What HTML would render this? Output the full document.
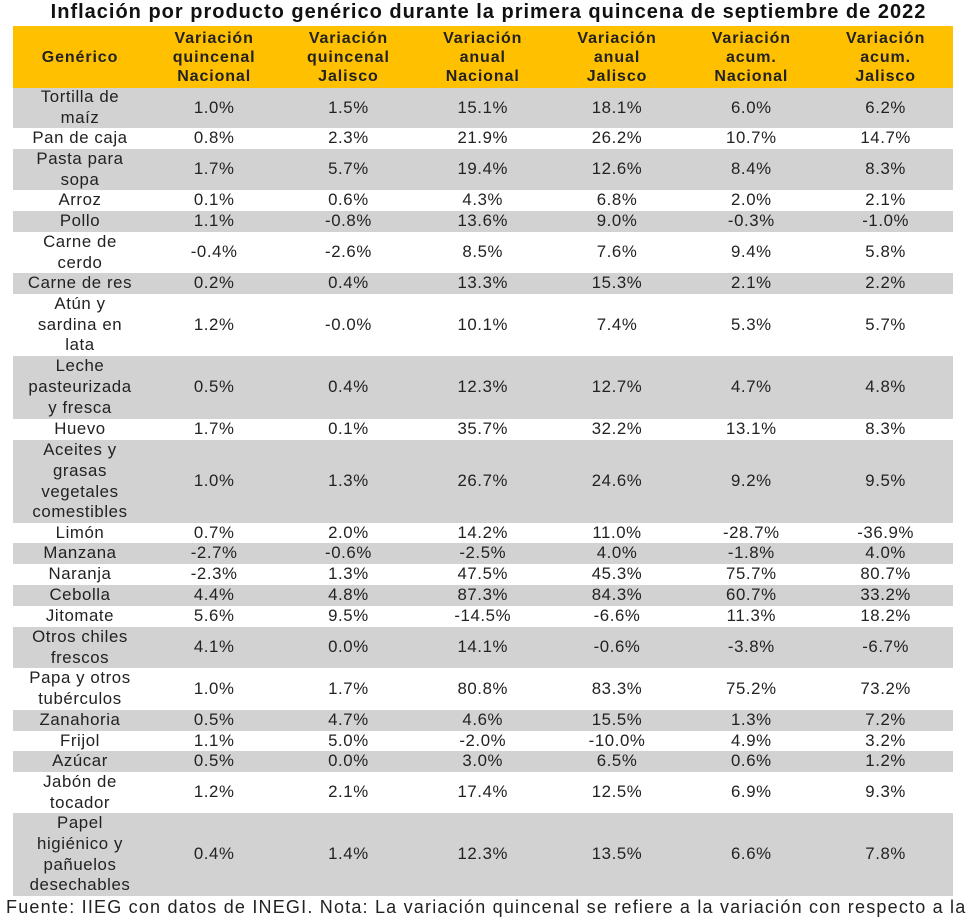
<!DOCTYPE html>
<html><head><meta charset="utf-8"><style>
body{margin:0;width:977px;height:920px;background:#fff;overflow:hidden;font-family:"Liberation Sans",Arial,sans-serif;color:#222;position:relative}
.t{position:absolute;top:0;left:0;width:977px;text-align:center;font-weight:bold;font-size:20px;letter-spacing:1px;line-height:24px;color:#111;white-space:nowrap}
.r{position:absolute;left:13px;width:940px;display:flex}
.r div{display:flex;align-items:center;justify-content:center;text-align:center;font-size:16.8px;letter-spacing:0.6px;line-height:20.8px}
.r div:nth-child(1){width:134px}
.r div:not(:first-child){width:134.3px}
.g{background:#d2d2d2}
.h{background:#ffc000}
.h div{font-weight:bold;font-size:16px;letter-spacing:0.9px;line-height:19px;color:#222}
.f{position:absolute;left:6px;top:896px;font-size:18px;letter-spacing:1.2px;line-height:23px;white-space:nowrap}
</style></head><body>
<div class="t">Inflación por producto genérico durante la primera quincena de septiembre de 2022</div>
<div class="r h" style="top:26px;height:62px"><div>Genérico</div><div>Variación<br>quincenal<br>Nacional</div><div>Variación<br>quincenal<br>Jalisco</div><div>Variación<br>anual<br>Nacional</div><div>Variación<br>anual<br>Jalisco</div><div>Variación<br>acum.<br>Nacional</div><div>Variación<br>acum.<br>Jalisco</div></div>
<div class="r g" style="top:88px;height:40px"><div>Tortilla de<br>maíz</div><div>1.0%</div><div>1.5%</div><div>15.1%</div><div>18.1%</div><div>6.0%</div><div>6.2%</div></div>
<div class="r" style="top:128px;height:21px"><div>Pan de caja</div><div>0.8%</div><div>2.3%</div><div>21.9%</div><div>26.2%</div><div>10.7%</div><div>14.7%</div></div>
<div class="r g" style="top:149px;height:41px"><div>Pasta para<br>sopa</div><div>1.7%</div><div>5.7%</div><div>19.4%</div><div>12.6%</div><div>8.4%</div><div>8.3%</div></div>
<div class="r" style="top:190px;height:21px"><div>Arroz</div><div>0.1%</div><div>0.6%</div><div>4.3%</div><div>6.8%</div><div>2.0%</div><div>2.1%</div></div>
<div class="r g" style="top:211px;height:21px"><div>Pollo</div><div>1.1%</div><div>-0.8%</div><div>13.6%</div><div>9.0%</div><div>-0.3%</div><div>-1.0%</div></div>
<div class="r" style="top:232px;height:41px"><div>Carne de<br>cerdo</div><div>-0.4%</div><div>-2.6%</div><div>8.5%</div><div>7.6%</div><div>9.4%</div><div>5.8%</div></div>
<div class="r g" style="top:273px;height:21px"><div>Carne de res</div><div>0.2%</div><div>0.4%</div><div>13.3%</div><div>15.3%</div><div>2.1%</div><div>2.2%</div></div>
<div class="r" style="top:294px;height:62px"><div>Atún y<br>sardina en<br>lata</div><div>1.2%</div><div>-0.0%</div><div>10.1%</div><div>7.4%</div><div>5.3%</div><div>5.7%</div></div>
<div class="r g" style="top:356px;height:63px"><div>Leche<br>pasteurizada<br>y fresca</div><div>0.5%</div><div>0.4%</div><div>12.3%</div><div>12.7%</div><div>4.7%</div><div>4.8%</div></div>
<div class="r" style="top:419px;height:21px"><div>Huevo</div><div>1.7%</div><div>0.1%</div><div>35.7%</div><div>32.2%</div><div>13.1%</div><div>8.3%</div></div>
<div class="r g" style="top:440px;height:83px"><div>Aceites y<br>grasas<br>vegetales<br>comestibles</div><div>1.0%</div><div>1.3%</div><div>26.7%</div><div>24.6%</div><div>9.2%</div><div>9.5%</div></div>
<div class="r" style="top:523px;height:20px"><div>Limón</div><div>0.7%</div><div>2.0%</div><div>14.2%</div><div>11.0%</div><div>-28.7%</div><div>-36.9%</div></div>
<div class="r g" style="top:543px;height:21px"><div>Manzana</div><div>-2.7%</div><div>-0.6%</div><div>-2.5%</div><div>4.0%</div><div>-1.8%</div><div>4.0%</div></div>
<div class="r" style="top:564px;height:21px"><div>Naranja</div><div>-2.3%</div><div>1.3%</div><div>47.5%</div><div>45.3%</div><div>75.7%</div><div>80.7%</div></div>
<div class="r g" style="top:585px;height:21px"><div>Cebolla</div><div>4.4%</div><div>4.8%</div><div>87.3%</div><div>84.3%</div><div>60.7%</div><div>33.2%</div></div>
<div class="r" style="top:606px;height:21px"><div>Jitomate</div><div>5.6%</div><div>9.5%</div><div>-14.5%</div><div>-6.6%</div><div>11.3%</div><div>18.2%</div></div>
<div class="r g" style="top:627px;height:41px"><div>Otros chiles<br>frescos</div><div>4.1%</div><div>0.0%</div><div>14.1%</div><div>-0.6%</div><div>-3.8%</div><div>-6.7%</div></div>
<div class="r" style="top:668px;height:42px"><div>Papa y otros<br>tubérculos</div><div>1.0%</div><div>1.7%</div><div>80.8%</div><div>83.3%</div><div>75.2%</div><div>73.2%</div></div>
<div class="r g" style="top:710px;height:21px"><div>Zanahoria</div><div>0.5%</div><div>4.7%</div><div>4.6%</div><div>15.5%</div><div>1.3%</div><div>7.2%</div></div>
<div class="r" style="top:731px;height:20px"><div>Frijol</div><div>1.1%</div><div>5.0%</div><div>-2.0%</div><div>-10.0%</div><div>4.9%</div><div>3.2%</div></div>
<div class="r g" style="top:751px;height:21px"><div>Azúcar</div><div>0.5%</div><div>0.0%</div><div>3.0%</div><div>6.5%</div><div>0.6%</div><div>1.2%</div></div>
<div class="r" style="top:772px;height:41px"><div>Jabón de<br>tocador</div><div>1.2%</div><div>2.1%</div><div>17.4%</div><div>12.5%</div><div>6.9%</div><div>9.3%</div></div>
<div class="r g" style="top:813px;height:83px"><div>Papel<br>higiénico y<br>pañuelos<br>desechables</div><div>0.4%</div><div>1.4%</div><div>12.3%</div><div>13.5%</div><div>6.6%</div><div>7.8%</div></div>
<div class="f">Fuente: IIEG con datos de INEGI. Nota: La variación quincenal se refiere a la variación con respecto a la</div>
</body></html>
